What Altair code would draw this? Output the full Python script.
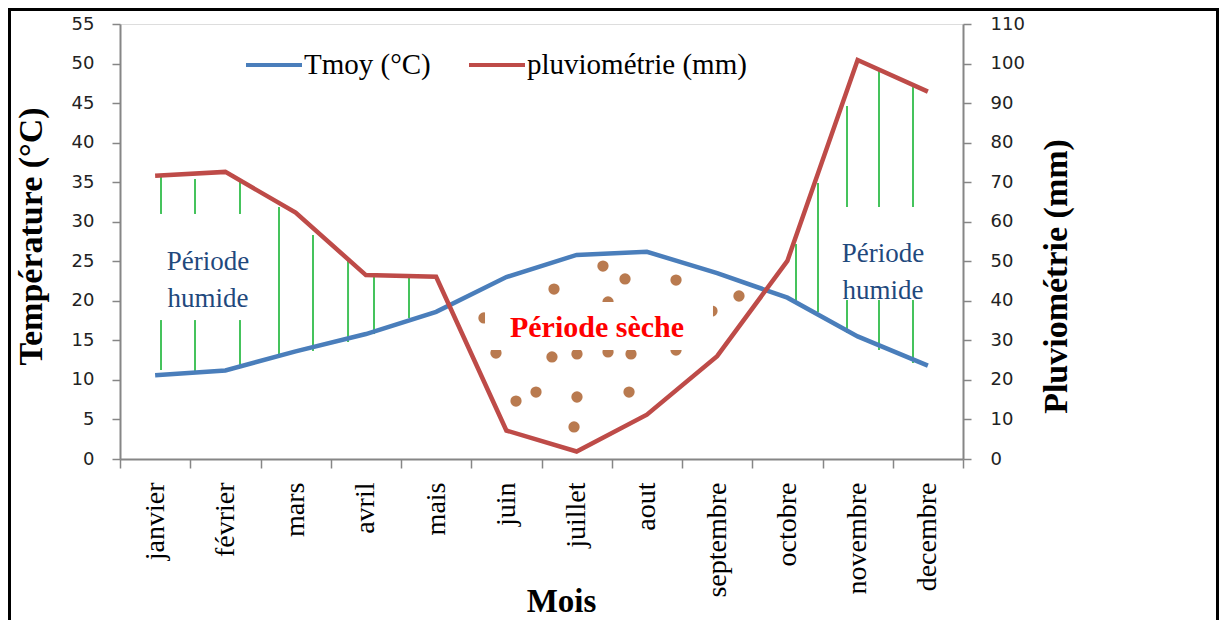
import altair as alt
import pandas as pd

# ---------------- data ----------------
months = ["janvier", "février", "mars", "avril", "mais", "juin",
          "juillet", "aout", "septembre", "octobre", "novembre", "decembre"]
tmoy = [10.6, 11.2, 13.6, 15.8, 18.6, 23.0, 25.8, 26.2, 23.5, 20.4, 15.5, 11.8]
pluvio = [71.6, 72.6, 62.3, 46.5, 46.1, 7.2, 1.9, 11.2, 26.0, 50.1, 100.9, 92.9]

series_names = ["Tmoy (°C)", "pluviométrie (mm)"]
series_colors = ["#4A7EBB", "#BE4B48"]

# green hatching of the humid periods (x in month units, y in °C)
hatch_x = [0.584, 0.584, 1.068, 1.068, 1.708, 1.708, 2.263, 2.747, 3.246, 3.616, 4.114,
           9.623, 9.936, 10.349, 10.349, 10.804, 10.804, 11.288, 11.288]
hatch_top = [35.66, 17.57, 35.40, 17.57, 35.15, 17.57, 31.86, 28.32, 25.41, 23.26, 23.01,
             27.18, 34.90, 44.63, 20.10, 49.06, 20.10, 47.03, 20.10]
hatch_bottom = [30.98, 11.25, 30.98, 11.13, 30.98, 11.63, 12.90, 13.66, 14.79, 15.80, 17.83,
                19.72, 18.59, 31.86, 15.93, 31.86, 13.78, 31.86, 12.14]

# brown dots of the dry period
dot_x = [6.875, 7.189, 7.915, 6.178, 8.811, 6.947, 8.427, 5.181, 5.352, 6.149,
         6.505, 6.947, 7.274, 7.915, 5.922, 5.637, 6.505, 7.246, 6.463]
dot_y = [24.40, 22.76, 22.63, 21.49, 20.61, 19.85, 18.71, 17.83, 13.40, 12.90,
         13.28, 13.53, 13.28, 13.78, 8.47, 7.33, 7.84, 8.47, 4.05]

# annotations
dry_label = "Période sèche"
dry_box_x = [5.196, 8.441]
dry_box_y = [19.85, 13.78]
dry_label_pos = [6.79, 16.56]
humid_label = "Période\nhumide"
humid_x = [1.253, 10.86]
humid_y = [24.9, 25.86]

temp_ticks = list(range(0, 56, 5))
rain_ticks = list(range(0, 111, 10))

# ---------------- tables ----------------
temp_df = pd.DataFrame({"pos": [i + 0.5 for i in range(12)], "val": tmoy,
                        "series": series_names[0]})
rain_df = pd.DataFrame({"pos": [i + 0.5 for i in range(12)], "val": pluvio,
                        "series": series_names[1]})
hatch_df = pd.DataFrame({"pos": hatch_x, "top": hatch_top, "bottom": hatch_bottom})
dot_df = pd.DataFrame({"pos": dot_x, "val": dot_y})
box_df = pd.DataFrame({"x1": [dry_box_x[0]], "x2": [dry_box_x[1]],
                       "y1": [dry_box_y[0]], "y2": [dry_box_y[1]]})
dry_df = pd.DataFrame({"pos": [dry_label_pos[0]], "val": [dry_label_pos[1]], "t": [dry_label]})
humid_df = pd.DataFrame({"pos": humid_x, "val": humid_y, "t": [humid_label] * 2})
frame_df = pd.DataFrame({"a": [0]})

GRAY = "#868686"
serif = "Liberation Serif"
sans = "DejaVu Sans"

month_js = "[" + ",".join("'" + m + "'" for m in months) + "]"
x_axis = alt.Axis(
    values=[k * 0.5 for k in range(25)],
    labelExpr="datum.value % 1 == 0.5 ? " + month_js + "[floor(datum.value)] : ''",
    tickOpacity={"condition": {"test": "datum.value % 1 != 0", "value": 0}, "value": 1},
    tickSize=9, tickColor=GRAY, tickWidth=1.5, domainColor=GRAY, domainWidth=2,
    labelAngle=270, labelAlign="right", labelBaseline="middle",
    labelFont=serif, labelFontSize=28, labelColor="black", labelPadding=14,
    labelOverlap=False, labelFlush=False, labelBound=False, grid=False,
    title="Mois", titleFont=serif, titleFontSize=33, titleFontWeight="bold",
    titleColor="black", titleX=441, titleY=152, titleAlign="center",
    titleBaseline="alphabetic",
)
x_scale = alt.Scale(domain=[0, 12], nice=False, zero=False)
X = lambda f="pos": alt.X(f + ":Q", scale=x_scale, axis=x_axis)

y_axis_t = alt.Axis(
    values=temp_ticks, tickSize=8, tickColor=GRAY, tickWidth=1.5, domainColor=GRAY,
    domainWidth=2, labelFont=sans, labelFontSize=18, labelColor="#222222",
    labelPadding=18, grid=False,
    title="Température (°C)", titleFont=serif, titleFontSize=34, titleFontWeight="bold",
    titleColor="black", titleAngle=270, titleX=-89, titleY=212, titleAlign="center",
    titleBaseline="middle",
)
y_scale_t = alt.Scale(domain=[0, 55], nice=False, zero=True)
y_axis_r = alt.Axis(
    orient="right", values=rain_ticks, tickSize=8, tickColor=GRAY, tickWidth=1.5,
    domainColor=GRAY, domainWidth=2, labelFont=sans, labelFontSize=18,
    labelColor="#222222", labelPadding=19, grid=False,
    title="Pluviométrie (mm)", titleFont=serif, titleFontSize=34, titleFontWeight="bold",
    titleColor="black", titleAngle=270, titleX=93, titleY=252, titleAlign="center",
    titleBaseline="middle",
)
y_scale_r = alt.Scale(domain=[0, 110], nice=False, zero=True)

color = alt.Color(
    "series:N",
    scale=alt.Scale(domain=series_names, range=series_colors),
    title=None,
    legend=alt.Legend(
        orient="none", legendX=124, legendY=11, direction="horizontal",
        symbolType="stroke", symbolSize=3136, symbolStrokeWidth=4,
        labelFont=serif, labelFontSize=29, labelColor="black", labelOffset=0,
        labelLimit=600, columnPadding=30, padding=0,
    ),
)

frame = alt.Chart(frame_df).mark_rect(filled=False, stroke="black", strokeWidth=3).encode(
    x=alt.value(-110.5), x2=alt.value(1097.5), y=alt.value(-14.5), y2=alt.value(700)
)

dots = alt.Chart(dot_df).mark_circle(size=127, opacity=1, color="#B97A4F").encode(
    x=X(), y=alt.Y("val:Q", scale=y_scale_t, axis=y_axis_t)
)
box = alt.Chart(box_df).mark_rect(color="white").encode(
    x=alt.X("x1:Q", scale=x_scale, axis=x_axis), x2="x2:Q",
    y=alt.Y("y1:Q", scale=y_scale_t, axis=y_axis_t), y2="y2:Q",
)
dry_text = alt.Chart(dry_df).mark_text(
    font=serif, fontSize=30, fontWeight="bold", color="#FF0000", baseline="middle"
).encode(x=X(), y=alt.Y("val:Q", scale=y_scale_t, axis=y_axis_t), text="t:N")
humid_text = alt.Chart(humid_df).mark_text(
    font=serif, fontSize=27, color="#1F497D", baseline="middle", lineBreak="\n",
    lineHeight=37
).encode(x=X(), y=alt.Y("val:Q", scale=y_scale_t, axis=y_axis_t), text="t:N")
hatch = alt.Chart(hatch_df).mark_rule(color="#45C35C", strokeWidth=2).encode(
    x=X(), y=alt.Y("top:Q", scale=y_scale_t, axis=y_axis_t), y2="bottom:Q"
)
temp_line = alt.Chart(temp_df).mark_line(strokeWidth=4.5).encode(
    x=X(), y=alt.Y("val:Q", scale=y_scale_t, axis=y_axis_t), color=color
)
rain_line = alt.Chart(rain_df).mark_line(strokeWidth=4.5).encode(
    x=X(), y=alt.Y("val:Q", scale=y_scale_r, axis=y_axis_r), color=color
)

left = alt.layer(frame, dots, box, dry_text, humid_text, hatch, temp_line)
chart = alt.layer(left, rain_line).resolve_scale(y="independent").properties(
    width=843, height=435,
    autosize=alt.AutoSizeParams(type="none"),
    padding={"left": 112, "top": 16, "right": 256, "bottom": 161},
).configure_view(stroke=None).configure(background="white")

chart.save("out.html", embed_options={"renderer": "svg", "actions": False})
